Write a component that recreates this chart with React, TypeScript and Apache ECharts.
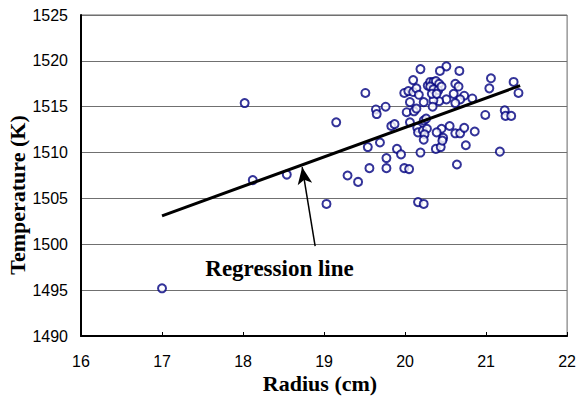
import React, { useEffect, useRef } from "react";
import * as echarts from "echarts";

const radius: number[] = [
  17.0, 18.02, 18.12, 18.54, 19.03, 19.29, 19.42, 19.15, 19.54, 19.69,
  19.9, 19.95, 20.19, 20.38, 20.44, 20.75, 21.17, 19.77, 19.56, 19.77,
  19.99, 20.05, 20.64, 20.16, 20.23, 19.64, 19.65, 19.76, 19.83, 19.87,
  20.02, 20.11, 20.14, 20.06, 20.23, 20.26, 20.15, 20.16, 20.22, 20.27,
  20.45, 20.55, 20.39, 20.47, 20.46, 20.24, 20.23, 20.62, 20.68, 20.73,
  20.86, 20.99, 21.23, 21.24, 21.31, 20.19, 20.51, 20.43, 20.67, 21.06,
  21.34, 21.4, 21.04, 20.1, 19.51, 19.99, 20.04, 20.1, 20.14, 20.17,
  20.62, 20.66, 20.6, 20.73, 20.83, 20.68, 20.62, 20.51, 20.42, 20.06,
  20.23, 20.35, 20.34, 20.28, 20.31, 20.35, 20.38, 20.42, 20.31, 20.35,
  20.41, 20.45, 20.33, 20.39,
];

const temperature: number[] = [
  1495.2, 1515.4, 1507.0, 1507.6, 1504.4, 1507.5, 1506.8, 1513.3, 1510.6, 1511.1,
  1510.4, 1509.8, 1510.0, 1510.4, 1510.6, 1510.8, 1510.1, 1509.4, 1508.3, 1508.3,
  1508.3, 1508.2, 1508.7, 1504.6, 1504.4, 1514.7, 1514.2, 1515.0, 1512.9, 1513.1,
  1514.4, 1514.5, 1514.8, 1513.3, 1513.5, 1513.7, 1512.7, 1512.2, 1512.4, 1512.6,
  1512.6, 1512.9, 1512.2, 1511.6, 1511.3, 1512.0, 1511.4, 1512.1, 1512.1, 1512.7,
  1512.3, 1514.1, 1514.6, 1514.0, 1514.0, 1519.1, 1519.4, 1518.9, 1518.9, 1518.1,
  1517.7, 1516.5, 1517.0, 1517.9, 1516.5, 1516.5, 1516.7, 1516.6, 1517.0, 1516.3,
  1517.5, 1517.2, 1516.4, 1516.2, 1515.9, 1515.8, 1515.4, 1515.8, 1515.6, 1515.5,
  1515.5, 1515.7, 1515.0, 1517.3, 1517.7, 1517.7, 1517.8, 1517.5, 1517.2, 1516.9,
  1516.8, 1517.2, 1516.4, 1516.4,
];

const regressionX: number[] = [17.0, 21.42];
const regressionY: number[] = [1503.1, 1517.3];

const arrowFrom: number[] = [18.89, 1499.8];
const arrowTo: number[] = [18.73, 1508.4];
const annotationAt: number[] = [18.45, 1497.4];
const annotationText = "Regression line";

const xTicks = { min: 16, max: 22, interval: 1 };
const yTicks = { min: 1490, max: 1525, interval: 5 };

const xTitle = "Radius (cm)";
const yTitle = "Temperature (K)";

export default function App() {
  const ref = useRef<HTMLDivElement>(null);

  useEffect(() => {
    document.body.style.margin = "0";
    if (!ref.current) return;
    const chart = echarts.init(ref.current, null, { renderer: "svg" });
    const scatterData = radius.map((r, i) => [r, temperature[i]]);
    const lineData = regressionX.map((x, i) => [x, regressionY[i]]);
    const titleFont = {
      fontFamily: "Liberation Serif",
      fontWeight: "bold",
      fontSize: 22,
      fill: "#000",
    };
    chart.setOption({
      animation: false,
      backgroundColor: "#fff",
      grid: {
        left: 81,
        top: 15,
        width: 488,
        height: 321,
        show: true,
        borderColor: "#666",
        borderWidth: 1,
        backgroundColor: "transparent",
      },
      xAxis: {
        type: "value",
        min: xTicks.min,
        max: xTicks.max,
        interval: xTicks.interval,
        axisLine: { show: true, lineStyle: { color: "#000", width: 2 } },
        axisTick: { show: true, inside: true, length: 4, lineStyle: { color: "#000" } },
        axisLabel: {
          color: "#000",
          fontFamily: "Liberation Sans",
          fontSize: 16,
          margin: 17,
          formatter: (v: number) => String(v),
        },
        splitLine: { show: false },
      },
      yAxis: {
        type: "value",
        min: yTicks.min,
        max: yTicks.max,
        interval: yTicks.interval,
        axisLine: { show: true, lineStyle: { color: "#000", width: 2 } },
        axisTick: { show: false },
        axisLabel: {
          color: "#000",
          fontFamily: "Liberation Sans",
          fontSize: 16,
          margin: 13,
          formatter: (v: number) => String(v),
        },
        splitLine: { show: true, lineStyle: { color: "#707070", width: 1 } },
      },
      graphic: [
        {
          type: "text",
          x: 320,
          y: 383,
          style: { ...titleFont, text: xTitle, align: "center", verticalAlign: "middle" },
        },
        {
          type: "text",
          x: 17.5,
          y: 195,
          rotation: Math.PI / 2,
          style: { ...titleFont, text: yTitle, align: "center", verticalAlign: "middle" },
        },
      ],
      series: [
        {
          type: "scatter",
          data: scatterData,
          symbol: "emptyCircle",
          symbolSize: 8,
          itemStyle: { color: "#000080", borderColor: "#000080", borderWidth: 1.3 },
          z: 3,
        },
        {
          type: "line",
          data: lineData,
          showSymbol: false,
          symbol: "none",
          lineStyle: { color: "#000", width: 3 },
          z: 4,
          markLine: {
            silent: true,
            symbol: ["none", "arrow"],
            symbolSize: [11, 17],
            lineStyle: { color: "#000", width: 1.5, type: "solid" },
            label: { show: false },
            data: [[{ coord: arrowFrom }, { coord: arrowTo }]],
          },
          markPoint: {
            silent: true,
            symbol: "circle",
            symbolSize: 0,
            label: {
              show: true,
              position: "inside",
              formatter: annotationText,
              color: "#000",
              fontFamily: "Liberation Serif",
              fontWeight: "bold",
              fontSize: 23,
            },
            data: [{ coord: annotationAt }],
          },
        },
      ],
    });
    return () => chart.dispose();
  }, []);

  return <div ref={ref} style={{ width: 579, height: 399 }} />;
}
